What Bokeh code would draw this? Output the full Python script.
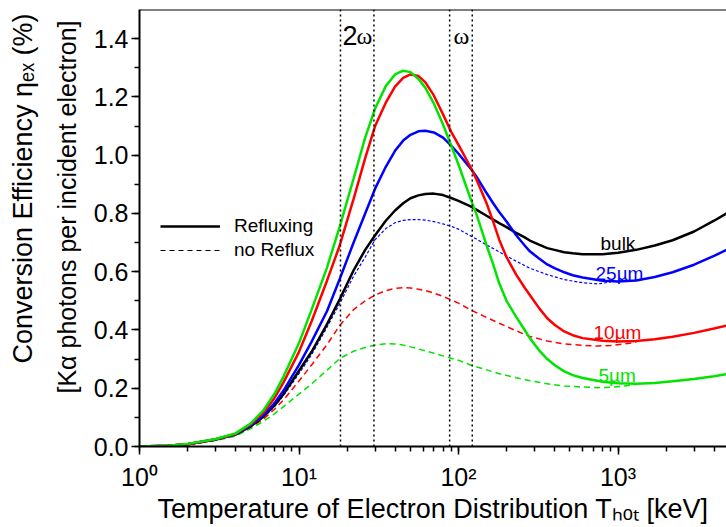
from math import log10
from bokeh.plotting import figure
from bokeh.models import (Range1d, Span, Label, Legend, LegendItem, CustomJSTickFormatter,
                          SingleIntervalTicker, NumeralTickFormatter, LogTicker, Title)
from bokeh.embed import file_html
from bokeh.resources import INLINE

# ---------------- data ----------------
T_solid = [1, 1.5, 2, 3, 4, 5, 6, 7, 8, 10, 12, 15, 18, 22, 26, 30, 35, 40, 45, 50,
           56, 62, 70, 80, 90, 100, 120, 130, 150, 165, 180, 200, 230, 260, 280, 320,
           360, 400, 460, 520, 600, 800, 1000, 1300, 1700, 2200, 3000, 4000, 4800]

eta_bulk = [0, .003, .008, .024, .041, .070, .103, .140, .180, .260, .325, .420, .505,
            .605, .675, .725, .775, .810, .835, .852, .862, .867, .868, .863, .853,
            .843, .823, .812, .792, .779, .767, .753, .733, .718, .707, .693, .681,
            .675, .667, .663, .660, .660, .665, .675, .690, .708, .738, .775, .800]
eta_25um = [0, .003, .008, .024, .042, .073, .108, .148, .192, .280, .360, .465, .575,
            .700, .800, .885, .960, 1.015, 1.050, 1.070, 1.082, 1.084, 1.078, 1.060,
            1.033, 1.005, .952, .925, .870, .835, .805, .772, .725, .690, .670, .645,
            .625, .612, .598, .588, .580, .569, .566, .570, .582, .598, .624, .654,
            .675]
eta_10um = [0, .003, .008, .025, .043, .077, .117, .165, .220, .325, .430, .570, .690,
            .850, .990, 1.100, 1.180, 1.235, 1.265, 1.277, 1.272, 1.250, 1.205, 1.140,
            1.080, 1.035, .955, .915, .835, .772, .710, .650, .590, .545, .520, .475,
            .440, .418, .395, .382, .372, .363, .360, .362, .368, .377, .390, .405,
            .415]
eta_5um = [0, .003, .009, .026, .045, .080, .125, .180, .240, .355, .470, .615, .755,
           .920, 1.060, 1.160, 1.237, 1.277, 1.290, 1.285, 1.262, 1.231, 1.178, 1.105,
           1.033, .968, .845, .795, .690, .625, .560, .500, .445, .400, .372, .330,
           .300, .280, .258, .245, .235, .222, .217, .215, .218, .224, .232, .241,
           .248]

T_dash = [1, 1.5, 2, 3, 4, 5, 6, 7, 8, 10, 12, 15, 18, 22, 26, 30, 35, 40, 45, 50,
          56, 62, 70, 80, 90, 100, 120, 150, 180, 230, 280, 360, 460, 600, 750, 900,
          1100, 1300]
eta_25um_nr = [0, .003, .008, .024, .041, .069, .100, .136, .175, .250, .315, .410,
               .490, .585, .650, .710, .748, .768, .776, .779, .779, .777, .772, .764,
               .756, .746, .722, .692, .668, .636, .612, .590, .573, .562, .558, .565]
eta_10um_nr = [0, .003, .007, .022, .038, .066, .095, .127, .160, .225, .280, .350,
               .415, .470, .500, .520, .535, .543, .545, .544, .540, .535, .527, .515,
               .503, .492, .468, .443, .423, .397, .378, .362, .352, .347, .345, .347,
               .352, .358]
eta_5um_nr = [0, .003, .006, .020, .036, .062, .087, .112, .137, .180, .215, .262,
              .302, .327, .340, .348, .353, .352, .348, .342, .335, .328, .320, .311,
              .303, .296, .279, .263, .250, .236, .226, .215, .208, .204, .202, .203,
              .208, .213]

omega_bounds = [18.2, 29.5, 88, 122]          # keV, dotted lines
x_decades = [1, 10, 100, 1000]
x_tick_labels = ["10\u2070", "10\u00b9", "10\u00b2", "10\u00b3"]

# ---------------- layout helpers ----------------
W, H = 726, 527
FL, FR, FT, FB = 139, 726, 9, 446
DEC_PX = 159.5
X_MAX = 10 ** ((FR - FL) / DEC_PX)
Y_MAX = 1.5


def px_x(px):
    return 10 ** ((px - FL) / DEC_PX)


def px_y(py):
    return (FB - py) / (FB - FT) * Y_MAX


GREEN = "#00E400"
RED = "#FF0000"
BLUE = "#0000FF"
SANS = "Liberation Sans"
SERIF = "Liberation Serif"

p = figure(width=W, height=H, x_axis_type="log",
           x_range=Range1d(1, X_MAX), y_range=Range1d(0, Y_MAX),
           output_backend="svg", toolbar_location=None,
           min_border_left=FL, min_border_right=W - FR,
           min_border_top=FT, min_border_bottom=H - FB)
p.outline_line_color = None
p.xgrid.visible = False
p.ygrid.visible = False
p.background_fill_color = "white"
p.border_fill_color = "white"

# x axis
xa = p.xaxis[0]
xa.ticker = LogTicker(num_minor_ticks=10)
xa.formatter = CustomJSTickFormatter(
    args=dict(vals=x_decades, labs=x_tick_labels),
    code="const i = vals.indexOf(Math.round(tick)); return i >= 0 ? labs[i] : '';")
xa.axis_line_width = 2
xa.major_tick_line_width = 1.5
xa.minor_tick_line_width = 1.5
xa.major_tick_out = 8
xa.major_tick_in = 0
xa.minor_tick_out = 5
xa.minor_tick_in = 0
xa.major_label_text_font = SANS
xa.major_label_text_font_size = "25px"
xa.major_label_text_color = "black"
xa.major_label_standoff = 8
xa.axis_label = "Temperature of Electron Distribution T\u2095\u2092\u209c [keV]"
xa.axis_label_text_font = SANS
xa.axis_label_text_font_size = "27px"
xa.axis_label_text_font_style = "normal"
xa.axis_label_text_color = "black"
xa.axis_label_standoff = 0

# y axis
ya = p.yaxis[0]
ya.ticker = SingleIntervalTicker(interval=0.2, num_minor_ticks=2)
ya.formatter = NumeralTickFormatter(format="0.0")
ya.axis_line_width = 2
ya.major_tick_line_width = 1.5
ya.minor_tick_line_width = 1.5
ya.major_tick_out = 8
ya.major_tick_in = 0
ya.minor_tick_out = 5
ya.minor_tick_in = 0
ya.major_label_text_font = SANS
ya.major_label_text_font_size = "25px"
ya.major_label_text_color = "black"
ya.major_label_standoff = 3

# y axis title: two lines, added as side titles
y_title_2 = Title(text="[K\u03b1 photons per incident electron]", align="right", offset=11,
                  standoff=20, text_font=SANS, text_font_size="25px",
                  text_font_style="normal", text_color="black")
y_title_1 = Title(text="Conversion Efficiency \u03b7\u2091\u2093 (%)", align="right", offset=4,
                  standoff=5, text_font=SANS, text_font_size="27px",
                  text_font_style="normal", text_color="black")
p.add_layout(y_title_2, "left")
p.add_layout(y_title_1, "left")

p.add_layout(Span(location=Y_MAX, dimension="width", line_color="black", line_width=2))

for v in omega_bounds:
    p.add_layout(Span(location=v, dimension="height", line_color="black",
                      line_width=1.5, line_dash="2 3"))

# curves: no reflux (dashed)
p.line(T_dash[:len(eta_25um_nr)], eta_25um_nr, line_color=BLUE, line_width=1.2, line_dash="3 2")
p.line(T_dash, eta_10um_nr, line_color=RED, line_width=1.5, line_dash="6 4")
p.line(T_dash, eta_5um_nr, line_color=GREEN, line_width=1.5, line_dash="6 4")

# curves: refluxing (solid)
r_bulk = p.line(T_solid, eta_bulk, line_color="black", line_width=2.5)
p.line(T_solid, eta_25um, line_color=BLUE, line_width=2.5)
p.line(T_solid, eta_10um, line_color=RED, line_width=2.5)
p.line(T_solid, eta_5um, line_color=GREEN, line_width=2.5)

r_dash_key = p.line(x=[1e-3], y=[-1.0], line_color="black", line_width=1.2, line_dash="5 4")

legend = Legend(items=[LegendItem(label="Refluxing", renderers=[r_bulk]),
                       LegendItem(label="no Reflux", renderers=[r_dash_key])],
                location=(21, 184), orientation="vertical",
                border_line_color=None, background_fill_alpha=0,
                padding=0, margin=0, spacing=0,
                glyph_width=60, glyph_height=24, label_height=24,
                label_standoff=14, label_text_font=SANS,
                label_text_font_size="19px", label_text_color="black")
p.add_layout(legend)


def lab(px, py, text, size, color="black", font=SANS, align="left",
        baseline="alphabetic"):
    p.add_layout(Label(x=px_x(px), y=px_y(py), text=text, text_font=font,
                       text_font_size=size, text_color=color, text_align=align,
                       text_baseline=baseline))


# curve labels
lab(600, 243, "bulk", "19px")
lab(595, 273, "25\u00b5m", "19px", color=BLUE)
lab(593, 332, "10\u00b5m", "19px", color=RED)
lab(598, 375, "5\u00b5m", "19px", color=GREEN)

# omega labels
lab(342, 35, "2", "27px")
lab(356, 35, "\u03c9", "24px", font=SERIF)
lab(453, 35, "\u03c9", "24px", font=SERIF)

open("out.html", "w").write(file_html(p, INLINE))
